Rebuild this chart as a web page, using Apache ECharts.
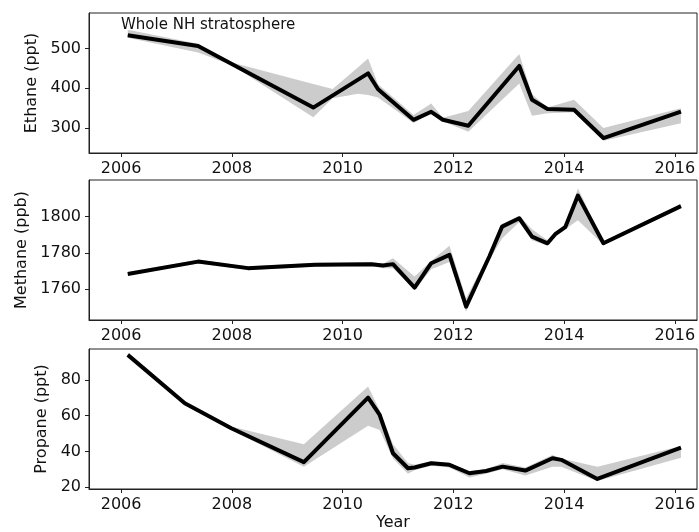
<!DOCTYPE html>
<html>
<head>
<meta charset="utf-8">
<script src="https://cdn.jsdelivr.net/npm/echarts@6/dist/echarts.min.js"></script>
<style>html,body{margin:0;padding:0;background:#fff}#c{width:699px;height:532px}</style>
</head>
<body>
<div id="c"></div>
<script>
// ---- Data ----
var xTicks = [2006, 2008, 2010, 2012, 2014, 2016];

var ethaneX = [2006.12, 2007.39, 2009.47, 2010.46, 2010.64, 2011.28, 2011.60, 2011.81, 2012.27, 2013.19, 2013.42, 2013.70, 2014.18, 2014.71, 2016.11];
var ethaneV = [533, 506, 351.5, 437.5, 397.5, 320.8, 341, 321, 306, 456, 371, 348, 346, 275, 341.5];
var ethaneBandX = [2006.12, 2007.39, 2008.0, 2009.47, 2009.82, 2010.28, 2010.46, 2010.64, 2011.28, 2011.60, 2011.81, 2012.27, 2013.19, 2013.42, 2013.70, 2014.18, 2014.71, 2016.11];
var ethaneLow  = [527, 490, 458, 327, 375, 386, 383, 377, 313, 336, 317, 291, 412, 331, 337, 340, 268, 312];
var ethaneHigh = [547, 512, 465, 411, 398, 453, 475, 410, 333, 362, 326, 343, 486, 385, 352, 371, 300, 350];
var ethaneTicks = [300, 400, 500];

var methaneX = [2006.12, 2007.39, 2008.29, 2009.50, 2010.52, 2010.73, 2010.91, 2011.30, 2011.60, 2011.93, 2012.23, 2012.65, 2012.88, 2013.19, 2013.42, 2013.70, 2013.84, 2014.02, 2014.25, 2014.71, 2016.11];
var methaneV = [1768.4, 1775.2, 1771.6, 1773.4, 1773.8, 1773.0, 1773.8, 1760.9, 1774.3, 1778.9, 1750.4, 1778.0, 1794.5, 1799.1, 1789.0, 1785.3, 1790.3, 1794.2, 1811.6, 1785.3, 1805.8];
var methaneLow  = [1767.5, 1774.2, 1770.6, 1772.4, 1772.8, 1771.5, 1771.5, 1759.5, 1771.0, 1775.0, 1747.5, 1776.0, 1788.0, 1797.0, 1787.0, 1784.0, 1789.0, 1793.0, 1798.0, 1784.5, 1805.0];
var methaneHigh = [1769.5, 1776.2, 1772.6, 1774.4, 1774.8, 1774.0, 1777.0, 1767.0, 1775.5, 1784.0, 1755.0, 1780.0, 1796.0, 1800.5, 1793.0, 1787.0, 1791.5, 1795.5, 1815.5, 1786.5, 1806.8];
var methaneTicks = [1760, 1780, 1800];

var propaneX = [2006.12, 2007.15, 2007.99, 2009.30, 2010.46, 2010.67, 2010.91, 2011.18, 2011.30, 2011.60, 2011.93, 2012.29, 2012.59, 2012.89, 2013.30, 2013.79, 2013.95, 2014.60, 2016.11];
var propaneV = [94, 67, 53, 34, 70.1, 60.4, 39, 30.6, 31, 33.4, 32.5, 27.8, 29.1, 31.5, 29.3, 36.2, 35.3, 24.6, 42.1];
var propaneLow  = [93, 66, 52, 31.5, 54.4, 52, 36, 27.5, 29.5, 32, 31, 25.5, 27.5, 30, 26.5, 31.5, 31.5, 23.5, 36.5];
var propaneHigh = [95, 68, 54, 44, 76.3, 63, 44, 33.5, 32.5, 34.5, 33.5, 29, 30, 33.5, 31, 38, 36, 31.5, 43];
var propaneTicks = [20, 40, 60, 80];

// ---- Chart ----
var FONT = 'DejaVu Sans';
var chart = echarts.init(document.getElementById('c'), null, {renderer: 'canvas'});

function pairs(xs, vs) { return xs.map(function (x, i) { return [x, vs[i]]; }); }
function plain(v) { return String(v); }

var tops = [13, 180, 349];
var H = 140;
var grids = tops.map(function (t) {
  return {left: 89, right: 2, top: t, height: H, show: true, borderColor: '#222', borderWidth: 1, backgroundColor: 'transparent'};
});

function xAxis(i, name) {
  return {
    type: 'value', gridIndex: i, min: 2005.42, max: 2016.40,
    name: name || '', nameLocation: 'middle', nameGap: 26,
    nameTextStyle: {fontFamily: FONT, fontSize: 16, color: '#111'},
    axisLine: {show: true, lineStyle: {color: '#222', width: 1}},
    axisTick: {show: true, inside: false, length: 4, lineStyle: {color: '#222'}, customValues: xTicks},
    axisLabel: {fontFamily: FONT, fontSize: 16, color: '#111', margin: 8, customValues: xTicks, formatter: plain},
    splitLine: {show: false}
  };
}
function yAxis(i, name, min, max, ticks, gap) {
  return {
    type: 'value', gridIndex: i, min: min, max: max,
    name: name, nameLocation: 'middle', nameGap: gap, nameRotate: 90,
    nameTextStyle: {fontFamily: FONT, fontSize: 16, color: '#111'},
    axisLine: {show: true, lineStyle: {color: '#222', width: 1}},
    axisTick: {show: true, inside: false, length: 4, lineStyle: {color: '#222'}, customValues: ticks},
    axisLabel: {fontFamily: FONT, fontSize: 16, color: '#111', margin: 8, customValues: ticks, formatter: plain},
    splitLine: {show: false}
  };
}

function bandSeries(i, xs, lo, hi) {
  var data = xs.map(function (x, k) { return [x, lo[k], hi[k]]; });
  return {
    type: 'custom', xAxisIndex: i, yAxisIndex: i, data: data, silent: true, z: 1,
    encode: {x: 0, y: [1, 2]},
    renderItem: function (params, api) {
      if (params.dataIndex !== 0) return null;
      var pts = [];
      for (var k = 0; k < xs.length; k++) pts.push(api.coord([xs[k], lo[k]]));
      for (var m = xs.length - 1; m >= 0; m--) pts.push(api.coord([xs[m], hi[m]]));
      return {type: 'polygon', shape: {points: pts}, style: {fill: '#cccccc', stroke: null}};
    }
  };
}
function mainSeries(i, xs, vs) {
  return {type: 'line', xAxisIndex: i, yAxisIndex: i, data: pairs(xs, vs), symbol: 'none',
    lineStyle: {color: '#000', width: 4, join: 'round', cap: 'butt'}, z: 3};
}

var series = [
  bandSeries(0, ethaneBandX, ethaneLow, ethaneHigh),
  mainSeries(0, ethaneX, ethaneV),
  bandSeries(1, methaneX, methaneLow, methaneHigh),
  mainSeries(1, methaneX, methaneV),
  bandSeries(2, propaneX, propaneLow, propaneHigh),
  mainSeries(2, propaneX, propaneV)
];

chart.setOption({
  animation: false,
  backgroundColor: '#fff',
  title: {text: 'Whole NH stratosphere', left: 121, top: 18, padding: 0,
    textStyle: {fontFamily: FONT, fontSize: 15, fontWeight: 'normal', color: '#111'}},
  grid: grids,
  xAxis: [xAxis(0), xAxis(1), xAxis(2, 'Year')],
  yAxis: [
    yAxis(0, 'Ethane (ppt)', 237.5, 589, ethaneTicks, 43),
    yAxis(1, 'Methane (ppb)', 1743, 1820.2, methaneTicks, 49),
    yAxis(2, 'Propane (ppt)', 19, 97.3, propaneTicks, 27)
  ],
  series: series
});
</script>
</body>
</html>
